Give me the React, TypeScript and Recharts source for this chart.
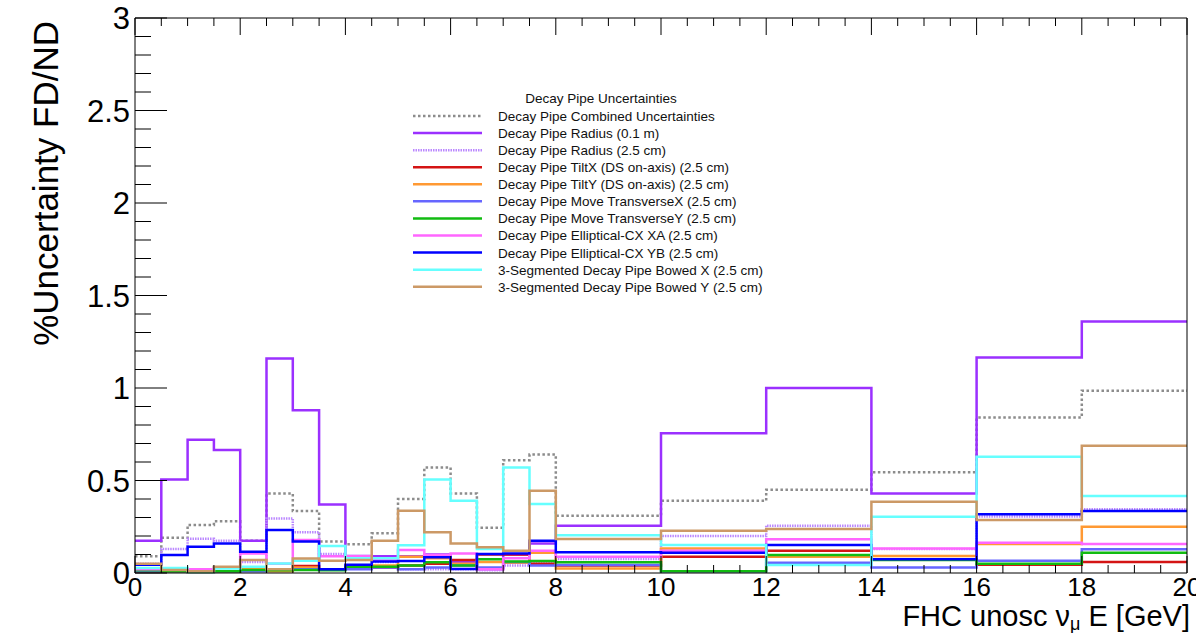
import { LineChart, Line, XAxis, YAxis, Legend } from "recharts";

// bin edges in GeV (last edge closes the final bin)
const binEdges = [0, 0.5, 1, 1.5, 2, 2.5, 3, 3.5, 4, 4.5, 5, 5.5, 6, 6.5, 7, 7.5, 8, 10, 12, 14, 16, 18, 20];

// % uncertainty per bin
const combined = [0.09, 0.19, 0.26, 0.28, 0.175, 0.43, 0.335, 0.17, 0.155, 0.215, 0.4, 0.57, 0.43, 0.245, 0.61, 0.64, 0.31, 0.39, 0.45, 0.545, 0.84, 0.985];
const radius01m = [0.175, 0.505, 0.72, 0.665, 0.175, 1.16, 0.88, 0.37, 0.092, 0.09, 0.09, 0.1, 0.06, 0.02, 0.1, 0.16, 0.255, 0.755, 1.0, 0.43, 1.165, 1.36];
const radius25cm = [0.05, 0.13, 0.185, 0.175, 0.06, 0.295, 0.22, 0.103, 0.09, 0.06, 0.02, 0.02, 0.02, 0.015, 0.04, 0.06, 0.076, 0.2, 0.256, 0.13, 0.305, 0.345];
const tiltX = [0.01, 0.01, 0.01, 0.01, 0.02, 0.02, 0.038, 0.02, 0.03, 0.03, 0.04, 0.05, 0.07, 0.1, 0.1, 0.05, 0.04, 0.088, 0.12, 0.075, 0.045, 0.06];
const tiltY = [0.01, 0.01, 0.01, 0.01, 0.02, 0.01, 0.03, 0.02, 0.03, 0.04, 0.088, 0.08, 0.05, 0.06, 0.055, 0.11, 0.025, 0.133, 0.088, 0.092, 0.157, 0.25];
const moveTransX = [0.01, 0.01, 0.005, 0.01, 0.01, 0.02, 0.02, 0.02, 0.02, 0.03, 0.02, 0.03, 0.04, 0.03, 0.06, 0.04, 0.043, 0.01, 0.056, 0.03, 0.066, 0.128];
const moveTransY = [0.015, 0.01, 0.005, 0.01, 0.016, 0.015, 0.016, 0.015, 0.034, 0.034, 0.04, 0.058, 0.04, 0.074, 0.062, 0.065, 0.058, 0.01, 0.097, 0.07, 0.05, 0.11];
const ellipXA = [0.02, 0.02, 0.02, 0.03, 0.106, 0.05, 0.178, 0.09, 0.09, 0.07, 0.124, 0.097, 0.106, 0.02, 0.08, 0.12, 0.088, 0.12, 0.183, 0.133, 0.164, 0.157];
const ellipYB = [0.045, 0.097, 0.142, 0.16, 0.115, 0.232, 0.17, 0.02, 0.045, 0.062, 0.065, 0.085, 0.022, 0.103, 0.106, 0.175, 0.112, 0.11, 0.151, 0.074, 0.317, 0.335];
const bowedX = [0.027, 0.027, 0.01, 0.024, 0.034, 0.052, 0.066, 0.146, 0.08, 0.08, 0.15, 0.506, 0.39, 0.13, 0.57, 0.373, 0.204, 0.151, 0.043, 0.304, 0.629, 0.416];
const bowedY = [0.05, 0.016, 0.01, 0.034, 0.07, 0.02, 0.079, 0.066, 0.07, 0.175, 0.337, 0.22, 0.16, 0.139, 0.12, 0.445, 0.184, 0.229, 0.238, 0.385, 0.286, 0.688];

// axis ticks
const xTicks = [0, 0.5, 1, 1.5, 2, 2.5, 3, 3.5, 4, 4.5, 5, 5.5, 6, 6.5, 7, 7.5, 8, 8.5, 9, 9.5, 10, 10.5, 11, 11.5, 12, 12.5, 13, 13.5, 14, 14.5, 15, 15.5, 16, 16.5, 17, 17.5, 18, 18.5, 19, 19.5, 20];
const xMajor = [0, 2, 4, 6, 8, 10, 12, 14, 16, 18, 20];
const yTicks = [0, 0.1, 0.2, 0.3, 0.4, 0.5, 0.6, 0.7, 0.8, 0.9, 1, 1.1, 1.2, 1.3, 1.4, 1.5, 1.6, 1.7, 1.8, 1.9, 2, 2.1, 2.2, 2.3, 2.4, 2.5, 2.6, 2.7, 2.8, 2.9, 3];
const yMajor = [0, 0.5, 1, 1.5, 2, 2.5, 3];

const series = [
  { key: "combined", name: "Decay Pipe Combined Uncertainties", color: "#8c8c8c", dash: "2.5 2.5", values: combined },
  { key: "radius01m", name: "Decay Pipe Radius (0.1 m)", color: "#9b30ff", dash: undefined, values: radius01m },
  { key: "radius25cm", name: "Decay Pipe Radius (2.5 cm)", color: "#bb88ff", dash: "1.5 1", values: radius25cm },
  { key: "tiltX", name: "Decay Pipe TiltX (DS on-axis) (2.5 cm)", color: "#d41414", dash: undefined, values: tiltX },
  { key: "tiltY", name: "Decay Pipe TiltY (DS on-axis) (2.5 cm)", color: "#ff9933", dash: undefined, values: tiltY },
  { key: "moveTransX", name: "Decay Pipe Move TransverseX (2.5 cm)", color: "#6666ff", dash: undefined, values: moveTransX },
  { key: "moveTransY", name: "Decay Pipe Move TransverseY (2.5 cm)", color: "#11bb11", dash: undefined, values: moveTransY },
  { key: "ellipXA", name: "Decay Pipe Elliptical-CX XA (2.5 cm)", color: "#ff66ff", dash: undefined, values: ellipXA },
  { key: "ellipYB", name: "Decay Pipe Elliptical-CX YB (2.5 cm)", color: "#0000ff", dash: undefined, values: ellipYB },
  { key: "bowedX", name: "3-Segmented Decay Pipe Bowed X (2.5 cm)", color: "#66ffff", dash: undefined, values: bowedX },
  { key: "bowedY", name: "3-Segmented Decay Pipe Bowed Y (2.5 cm)", color: "#cc9966", dash: undefined, values: bowedY },
];

// one row per bin edge; the last edge repeats the last bin so the step reaches 20
const chartData = binEdges.map((x, i) => {
  const row: Record<string, number> = { x };
  series.forEach((s) => {
    row[s.key] = s.values[Math.min(i, s.values.length - 1)];
  });
  return row;
});

const FONT = "'Liberation Sans', Arial, Helvetica, sans-serif";

const BottomTick = (props: any) => {
  const { x, y, payload } = props;
  const major = xMajor.includes(payload.value);
  return (
    <g>
      <line x1={x} x2={x} y1={y} y2={y - (major ? 17 : 8)} stroke="#000" />
      {major && (
        <text x={x} y={y + 23} textAnchor="middle" fontSize={26} fontFamily={FONT} fill="#000">
          {payload.value}
        </text>
      )}
    </g>
  );
};

const TopTick = (props: any) => {
  const { x, y, payload } = props;
  const major = xMajor.includes(payload.value);
  return <line x1={x} x2={x} y1={y} y2={y + (major ? 17 : 8)} stroke="#000" />;
};

const LeftTick = (props: any) => {
  const { x, y, payload } = props;
  const major = yMajor.includes(payload.value);
  return (
    <g>
      <line x1={x} x2={x + (major ? 32 : 16)} y1={y} y2={y} stroke="#000" />
      {major && (
        <text x={x - 5} y={y} dy="0.36em" textAnchor="end" fontSize={31} fontFamily={FONT} fill="#000">
          {payload.value}
        </text>
      )}
    </g>
  );
};

const RightTick = (props: any) => {
  const { x, y, payload } = props;
  const major = yMajor.includes(payload.value);
  return <line x1={x} x2={x - (major ? 32 : 16)} y1={y} y2={y} stroke="#000" />;
};

const LegendBox = () => (
  <svg width={400} height={215} style={{ display: "block" }}>
    <text x={201} y={15} textAnchor="middle" fontSize={13.5} fontFamily={FONT} fill="#111">
      Decay Pipe Uncertainties
    </text>
    {series.map((s, i) => {
      const cy = 28 + i * 17.07;
      return (
        <g key={s.key}>
          <line
            x1={13}
            x2={82}
            y1={cy}
            y2={cy}
            stroke={s.color}
            strokeWidth={2.5}
            strokeDasharray={s.dash}
          />
          <text x={98} y={cy + 5} fontSize={13.5} fontFamily={FONT} fill="#111">
            {s.name}
          </text>
        </g>
      );
    })}
  </svg>
);

export default function App() {
  return (
    <div style={{ position: "absolute", left: 0, top: 0, background: "#fff" }}>
      <LineChart
        width={1196}
        height={633}
        data={chartData}
        margin={{ top: 0, right: 0, bottom: 0, left: 0 }}
      >
        <XAxis
          dataKey="x"
          type="number"
          domain={[0, 20]}
          ticks={xTicks}
          interval={0}
          height={60}
          tickSize={0}
          tickMargin={0}
          tickLine={false}
          axisLine={{ stroke: "#000" }}
          tick={<BottomTick />}
          label={{
            content: () => (
              <text x={1190} y={626} textAnchor="end" fontSize={29} fontFamily={FONT} fill="#000">
                <tspan>FHC unosc ν</tspan>
                <tspan dy={4} fontSize={18}>μ</tspan>
                <tspan dy={-4}> E [GeV]</tspan>
              </text>
            ),
          }}
        />
        <XAxis
          xAxisId="top"
          orientation="top"
          dataKey="x"
          type="number"
          domain={[0, 20]}
          ticks={xTicks}
          interval={0}
          height={18}
          tickSize={0}
          tickMargin={0}
          tickLine={false}
          axisLine={{ stroke: "#000" }}
          tick={<TopTick />}
        />
        <YAxis
          type="number"
          domain={[0, 3]}
          ticks={yTicks}
          interval={0}
          width={135}
          tickSize={0}
          tickMargin={0}
          tickLine={false}
          axisLine={{ stroke: "#000" }}
          tick={<LeftTick />}
          label={{
            content: () => (
              <text
                transform="translate(58,21) rotate(-90)"
                textAnchor="end"
                fontSize={35}
                fontFamily={FONT}
                fill="#000"
              >
                %Uncertainty FD/ND
              </text>
            ),
          }}
        />
        <YAxis
          yAxisId="right"
          orientation="right"
          type="number"
          domain={[0, 3]}
          ticks={yTicks}
          interval={0}
          width={9}
          tickSize={0}
          tickMargin={0}
          tickLine={false}
          axisLine={{ stroke: "#000" }}
          tick={<RightTick />}
        />
        <Legend
          layout="vertical"
          align="center"
          verticalAlign="middle"
          wrapperStyle={{ left: 400, top: 88, width: 400, height: 215 }}
          content={() => <LegendBox />}
        />
        {series.map((s) => (
          <Line
            key={s.key}
            dataKey={s.key}
            name={s.name}
            type="stepAfter"
            stroke={s.color}
            strokeWidth={2.5}
            strokeDasharray={s.dash}
            dot={false}
            activeDot={false}
            isAnimationActive={false}
          />
        ))}
      </LineChart>
    </div>
  );
}
